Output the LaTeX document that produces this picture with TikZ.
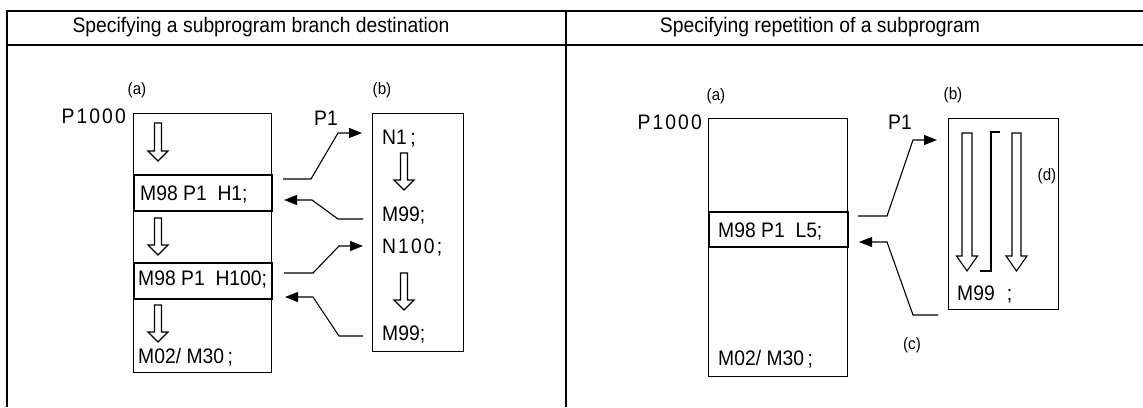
\documentclass[tikz,border=0pt]{standalone}
\usepackage{fontspec}
\setmainfont{Liberation Sans}
\newfontfamily\narrowfont[FakeStretch=0.92]{Liberation Sans}
\newfontfamily\spacedfont[FakeStretch=0.92,LetterSpace=10]{Liberation Sans}
\usetikzlibrary{arrows.meta}
\tikzset{
  tbl/.style={line width=2pt},
  mbox/.style={draw, line width=1.3pt, inner sep=0pt, anchor=north west},
  callbox/.style={draw, line width=2.2pt, inner sep=0pt, anchor=north west},
  big/.style={font=\fontsize{21}{23}\selectfont\narrowfont, inner sep=0pt, anchor=base west},
  bigsp/.style={font=\fontsize{21}{23}\selectfont\spacedfont, inner sep=0pt, anchor=base west},
  lbl/.style={font=\fontsize{16.5}{18}\selectfont\narrowfont, inner sep=0pt},
  conn/.style={line width=1.1pt, -{Triangle[length=13pt,width=10pt]}},
  hollowarr/.style={draw, line width=1.1pt, fill=white, line join=miter},
}
\newcommand\hdown[6]{% x, ytop, ytip, half shaft, half head, head length
  \draw[hollowarr] ({#1-#4},#2) -- ({#1+#4},#2) -- ({#1+#4},{#3-#6}) -- ({#1+#5},{#3-#6}) -- (#1,#3) -- ({#1-#5},{#3-#6}) -- ({#1-#4},{#3-#6}) -- cycle;}
\begin{document}
\begin{tikzpicture}[x=1pt,y=-1pt]
\useasboundingbox (0,0) rectangle (1143,407);
% table
\draw[tbl] (7,407) -- (7,11) -- (1143,11);
\draw[tbl] (7,45) -- (1143,45);
\draw[tbl] (566,11) -- (566,407);
\node[big, anchor=base] (h1) at (261,32) {Specifying a subprogram branch destination};
\node[big, anchor=base] (h2) at (820,32) {Specifying repetition of a subprogram};

% ---------- left panel ----------
\node[lbl] (la) at (137,90) {(a)};
\node[lbl] (lb) at (382,90) {(b)};
\node[bigsp, anchor=base east] (lp1000) at (126,123) {P1000};
\node[big, anchor=base] (lp1) at (326,125) {P1};
\node[mbox, minimum width=138pt, minimum height=259pt] (lmain) at (133,113) {};
\node[callbox, minimum width=138pt, minimum height=36pt] (lh1) at (133,174) {};
\node[callbox, minimum width=138pt, minimum height=36pt] (lh100) at (133,262) {};
\node[big] (t1) at (140,200) {M98 P1\ \ H1;};
\node[big] (t2) at (138,285) {M98 P1\ \ H100;};
\node[big] (t3) at (138,363) {M02/\ M30\,;};
\hdown{158}{123}{161}{3.5}{10}{10}
\hdown{158}{218}{255}{3.5}{10}{10}
\hdown{158}{305}{342}{3.5}{10}{10}

\node[mbox, minimum width=91pt, minimum height=238pt] (lsub) at (372,113) {};
\node[big] (s1) at (382,144) {N1\,;};
\node[big] (s2) at (382,221) {M99;};
\node[bigsp] (s3) at (382,253) {N100;};
\node[big] (s4) at (382,340) {M99;};
\hdown{404}{153}{190}{3.5}{10}{10}
\hdown{404}{273}{310}{3.5}{10}{10}

\coordinate (l1s) at (283,179); \coordinate (l1e) at (362,133);
\coordinate (l2s) at (363,219); \coordinate (l2e) at (284,200);
\coordinate (l3s) at (284,273); \coordinate (l3e) at (363,246);
\coordinate (l4s) at (363,336); \coordinate (l4e) at (285,297);
\draw[conn] (l1s) -- (311,179) -- (338,133) -- (l1e);
\draw[conn] (l2s) -- (338,219) -- (312,200) -- (l2e);
\draw[conn] (l3s) -- (313,273) -- (339,246) -- (l3e);
\draw[conn] (l4s) -- (339,336) -- (313,297) -- (l4e);

% ---------- right panel ----------
\node[lbl] (ra) at (716,96) {(a)};
\node[lbl] (rb) at (953,95) {(b)};
\node[lbl] (rc) at (912,345) {(c)};
\node[lbl] (rd) at (1047,176) {(d)};
\node[bigsp, anchor=base east] (rp1000) at (702,129) {P1000};
\node[big, anchor=base] (rp1) at (900,129) {P1};
\node[mbox, minimum width=139pt, minimum height=258pt] (rmain) at (708,118) {};
\node[callbox, minimum width=139pt, minimum height=35pt] (rl5) at (708,211) {};
\node[big] (r1) at (718,237) {M98 P1\ \ L5;};
\node[big] (r2) at (718,365) {M02/\ M30\,;};

\node[mbox, minimum width=110pt, minimum height=191pt] (rsub) at (948,118) {};
\hdown{967}{133}{271}{5}{10.5}{15}
\hdown{1016.5}{133}{271}{4.5}{10.5}{15}
\draw[line width=1.1pt] (1000,132) -- (991,132) -- (991,271) -- (980,271);
\node[big] (r3) at (957,300) {M99\hspace{12pt};};

\coordinate (r1s) at (858,216); \coordinate (r1e) at (937,140);
\coordinate (r2s) at (938,315); \coordinate (r2e) at (859,242);
\draw[conn] (r1s) -- (887,216) -- (913,140) -- (r1e);
\draw[conn] (r2s) -- (913,315) -- (887,242) -- (r2e);
\end{tikzpicture}
\end{document}
